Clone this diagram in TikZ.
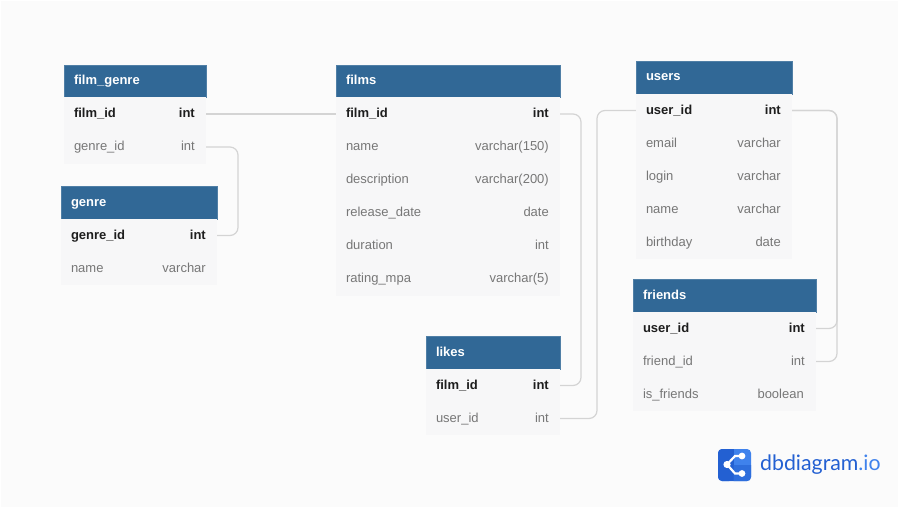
\documentclass[tikz,border=0pt]{standalone}
\usepackage{fontspec}
\setmainfont{Liberation Sans}
\newfontfamily\logofont{Lato}
\definecolor{pagebg}{HTML}{FBFBFB}
\definecolor{headblue}{HTML}{316896}
\definecolor{rowgray}{HTML}{F7F7F8}
\definecolor{linegray}{HTML}{D4D4D4}
\definecolor{keytext}{HTML}{1E1E1E}
\definecolor{plaintext}{HTML}{777777}
\definecolor{logodark}{HTML}{2360D2}
\definecolor{logolight}{HTML}{3F82EC}
\tikzset{
  head/.style={rectangle,fill=headblue,draw=headblue!85,line width=.3pt,text=white,inner sep=0pt,minimum height=32.5pt,text height=10pt,text depth=3pt,font=\fontsize{13}{15}\selectfont\bfseries,align=left},
  row/.style={rectangle,fill=rowgray,inner sep=0pt,minimum height=33pt,text height=10.5pt,text depth=3pt,font=\fontsize{13}{15}\selectfont,text=plaintext,align=left},
  key/.style={row,text=keytext,font=\fontsize{13}{15}\selectfont\bfseries},
  kind/.style={rectangle,inner sep=0pt,anchor=east,text height=10.5pt,text depth=3pt,font=\fontsize{13}{15}\selectfont,text=plaintext},
  keykind/.style={kind,text=keytext,font=\fontsize{13}{15}\selectfont\bfseries},
  link/.style={draw=linegray,line width=1.2pt,rounded corners=8pt}
}
\begin{document}
\begin{tikzpicture}[x=1pt,y=-1pt]
\useasboundingbox (0,0) rectangle (899,508);
\fill[white] (0,0) rectangle (899,508);
\fill[pagebg] (1,1) rectangle (898,507);

% film_genre
\node (fg0) at (135,81) [head,minimum width=142pt,text width=122pt] {film\_genre};
\node (fg1) at (135,114) [key,minimum width=142pt,text width=122pt] {film\_id};
\node (fg2) at (135,147) [row,minimum width=142pt,text width=122pt] {genre\_id};
\node (fg1t) at (195,114) [keykind] {int};
\node (fg2t) at (195,147) [kind] {int};

% genre
\node (g0) at (139,202.5) [head,minimum width=156pt,text width=136pt] {genre};
\node (g1) at (139,235.5) [key,minimum width=156pt,text width=136pt] {genre\_id};
\node (g2) at (139,268.5) [row,minimum width=156pt,text width=136pt] {name};
\node (g1t) at (206,235.5) [keykind] {int};
\node (g2t) at (206,268.5) [kind] {varchar};

% films
\node (f0) at (448,81) [head,minimum width=224pt,text width=204pt] {films};
\node (f1) at (448,114) [key,minimum width=224pt,text width=204pt] {film\_id};
\node (f2) at (448,147) [row,minimum width=224pt,text width=204pt] {name};
\node (f3) at (448,180) [row,minimum width=224pt,text width=204pt] {description};
\node (f4) at (448,213) [row,minimum width=224pt,text width=204pt] {release\_date};
\node (f5) at (448,246) [row,minimum width=224pt,text width=204pt] {duration};
\node (f6) at (448,279) [row,minimum width=224pt,text width=204pt] {rating\_mpa};
\node (f1t) at (549,114) [keykind] {int};
\node (f2t) at (549,147) [kind] {varchar(150)};
\node (f3t) at (549,180) [kind] {varchar(200)};
\node (f4t) at (549,213) [kind] {date};
\node (f5t) at (549,246) [kind] {int};
\node (f6t) at (549,279) [kind] {varchar(5)};

% users
\node (u0) at (714,77.5) [head,minimum width=156pt,text width=136pt] {users};
\node (u1) at (714,110.5) [key,minimum width=156pt,text width=136pt] {user\_id};
\node (u2) at (714,143.5) [row,minimum width=156pt,text width=136pt] {email};
\node (u3) at (714,176.5) [row,minimum width=156pt,text width=136pt] {login};
\node (u4) at (714,209.5) [row,minimum width=156pt,text width=136pt] {name};
\node (u5) at (714,242.5) [row,minimum width=156pt,text width=136pt] {birthday};
\node (u1t) at (781,110.5) [keykind] {int};
\node (u2t) at (781,143.5) [kind] {varchar};
\node (u3t) at (781,176.5) [kind] {varchar};
\node (u4t) at (781,209.5) [kind] {varchar};
\node (u5t) at (781,242.5) [kind] {date};

% friends
\node (fr0) at (724.5,295.5) [head,minimum width=183pt,text width=163pt] {friends};
\node (fr1) at (724.5,328.5) [key,minimum width=183pt,text width=163pt] {user\_id};
\node (fr2) at (724.5,361.5) [row,minimum width=183pt,text width=163pt] {friend\_id};
\node (fr3) at (724.5,394.5) [row,minimum width=183pt,text width=163pt] {is\_friends};
\node (fr1t) at (805,328.5) [keykind] {int};
\node (fr2t) at (805,361.5) [kind] {int};
\node (fr3t) at (804,394.5) [kind] {boolean};

% likes
\node (l0) at (493,352.5) [head,minimum width=134pt,text width=114pt] {likes};
\node (l1) at (493,385.5) [key,minimum width=134pt,text width=114pt] {film\_id};
\node (l2) at (493,418.5) [row,minimum width=134pt,text width=114pt] {user\_id};
\node (l1t) at (549,385.5) [keykind] {int};
\node (l2t) at (549,418.5) [kind] {int};

% connectors
\draw[link] (fg1.east) -- (f1.west);
\draw[link] (fg2.east) -| (238,190) |- (g1.east);
\draw[link] (f1.east) -| (581,250) |- (l1.east);
\draw[link] (l2.east) -| (597,260) |- (u1.west);
\draw[link] (u1.east) -| (837,220) |- (fr1.east);
\draw[link] (u1.east) -| (837,220) |- (fr2.east);

% logo
\fill[logolight,rounded corners=4pt] (718,449) rectangle (751,481);
\fill[logodark,rounded corners=4pt] (718,449) -- (733,449) -- (733,481) -- (718,481) -- cycle;
\fill[logodark] (729,449) rectangle (733.5,481);
\fill[logodark!60!logolight] (733.5,465) -- (751,465) -- (751,477) .. controls (751,480) and (749,481) .. (747,481) -- (733.5,481) -- cycle;
\coordinate (hub) at (727,464.5);
\coordinate (top) at (742,456);
\coordinate (bot) at (742,473.5);
\draw[white,line width=2.2pt] (top) -- (735,456) -- (hub) -- (735,473.5) -- (bot);
\fill[white] (hub) circle (3.6pt) (top) circle (3.4pt) (bot) circle (3.4pt);
\node (logotext) at (760,465) [anchor=west,inner sep=0pt,text=logodark,font=\fontsize{21.3}{24}\logofont] {dbdiagram\textcolor{logolight}{.io}};
\end{tikzpicture}
\end{document}
